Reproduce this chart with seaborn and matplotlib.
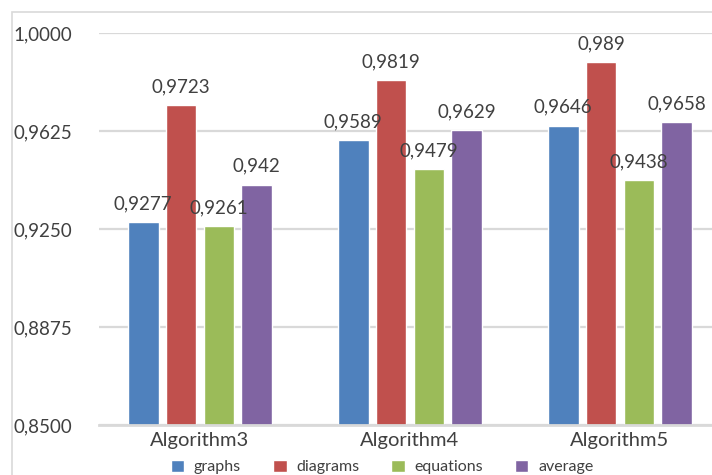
import matplotlib
matplotlib.use("Agg")
import matplotlib.pyplot as plt
from matplotlib.patches import Rectangle
from matplotlib.ticker import FuncFormatter
import seaborn as sns
import pandas as pd

algorithms = ["Algorithm3", "Algorithm4", "Algorithm5"]
series = ["graphs", "diagrams", "equations", "average"]
graphs = [0.9277, 0.9589, 0.9646]
diagrams = [0.9723, 0.9819, 0.989]
equations = [0.9261, 0.9479, 0.9438]
average = [0.942, 0.9629, 0.9658]
y_ticks = [0.85, 0.8875, 0.925, 0.9625, 1.0]
colors = ["#4F81BD", "#C0504D", "#9BBB59", "#8064A2"]

rows = []
for name, vals in zip(series, [graphs, diagrams, equations, average]):
    for alg, v in zip(algorithms, vals):
        rows.append({"algorithm": alg, "series": name, "value": v})
df = pd.DataFrame(rows)

sns.set_theme(style="white")
plt.rcParams["font.family"] = ["Lato", "DejaVu Sans"]
text_color = "#404040"

fig = plt.figure(figsize=(7.12, 4.75), dpi=100)
W, H = 712, 475
# plot area extends past the right edge of the canvas
ax = fig.add_axes([99 / W, 1 - 425 / H, 626 / W, 392 / H])

sns.barplot(data=df, x="algorithm", y="value", hue="series",
            order=algorithms, hue_order=series, palette=colors,
            width=0.72, gap=0.19, saturation=1, ax=ax, legend=True)

ax.set_xlim(-0.481, 2.5)
ax.set_ylim(0.85, 1.0)
ax.set_yticks(y_ticks)
ax.yaxis.set_major_formatter(FuncFormatter(lambda v, p: f"{v:.4f}".replace(".", ",")))
ax.grid(axis="y", color="#D9D9D9", linewidth=1.6)
ax.set_axisbelow(True)
for s in ["left", "right", "top"]:
    ax.spines[s].set_visible(False)
ax.spines["bottom"].set_color("#D9D9D9")
ax.spines["bottom"].set_linewidth(2)
ax.set_xlabel("")
ax.set_ylabel("")
ax.tick_params(axis="y", length=0, pad=19, labelsize=13.5, labelcolor=text_color)
ax.tick_params(axis="x", length=0, pad=5, labelsize=14.5, labelcolor=text_color)

for container in ax.containers:
    labels = [str(round(b.get_height(), 4)).replace(".", ",") for b in container]
    ax.bar_label(container, labels=labels, padding=7, fontsize=13.5, color=text_color)

handles, labels = ax.get_legend_handles_labels()
ax.get_legend().remove()
fig.legend(handles, labels, loc="center", bbox_to_anchor=(382 / W, 8 / H),
           ncol=4, frameon=False, fontsize=11.5, handlelength=0.85, handleheight=0.85,
           handletextpad=0.6, columnspacing=2.0, labelcolor=text_color,
           borderpad=0.2)

# chart-area border
fig.patches.append(Rectangle((12 / W, -0.1), 1.0, 1 - 12 / H + 0.1,
                             transform=fig.transFigure, fill=False,
                             edgecolor="#D9D9D9", linewidth=1.2))

fig.savefig("out.png", dpi=100)
